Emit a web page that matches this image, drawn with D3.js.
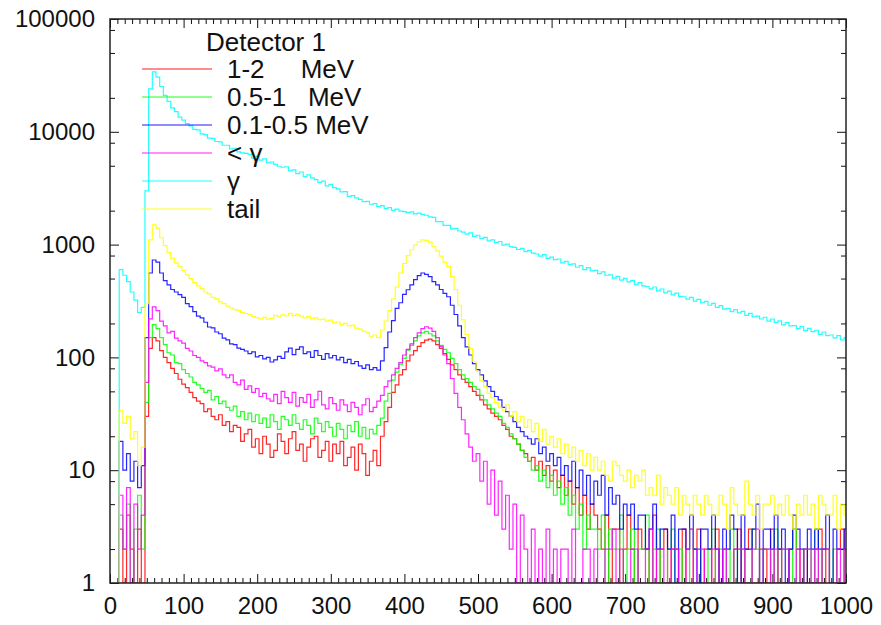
<!DOCTYPE html>
<html><head><meta charset="utf-8">
<script src="https://cdn.jsdelivr.net/npm/d3@7"></script>
<style>
body{margin:0;background:#fff;}
svg text{font-family:"Liberation Sans",Arial,sans-serif;fill:#111;}
</style></head><body>
<svg id="chart" width="881" height="625"></svg>
<script>
// channel bins (x = 10 ... 1000, every 5)
const binStart = 10, binStep = 5, binEnd = 1000;
const channels = d3.range(binStart, binEnd + 1, binStep);

const legendTitle = "Detector 1";
const seriesNames = ["1-2     MeV", "0.5-1   MeV", "0.1-0.5 MeV", "< γ", "γ", "tail"];
const seriesColors = ["#ff0000", "#00ff00", "#0000ff", "#ff00ff", "#00ffff", "#ffff00"];

const counts1to2 = [
 1,3,1,4,2,1,3,1,30,120,
 150,140,115,100,90,80,72,64,58,54,
 49,44,41,39,33,35,30,28,31,25,
 27,22,25,24,18,21,23,16,19,14,
 20,17,13,15,21,18,14,19,22,15,
 17,12,16,19,20,13,15,18,12,17,
 14,18,11,13,16,10,17,14,9,12,
 15,11,20,27,36,49,57,70,78,93,
 105,115,125,135,142,145,140,130,120,108,
 96,86,78,70,64,60,55,50,46,42,
 38,35,32,30,28,25,23,20,19,17,
 15,14,12,13,10,12,9,11,8,10,
 7,9,6,8,5,7,4,6,3,5,
 4,3,2,4,1,3,3,1,2,4,
 2,1,3,2,2,1,4,1,2,3,
 1,2,2,1,3,1,1,2,3,1,
 2,2,1,3,1,2,1,1,2,3,
 1,2,3,1,1,2,2,1,3,1,
 2,1,1,2,3,2,1,2,1,1,
 2,3,1,2,1,1,2,3,1];

const counts05to1 = [
 1,4,2,5,1,3,6,2,40,150,
 195,180,150,130,110,105,90,88,78,72,
 67,60,57,53,49,51,42,45,39,41,
 36,34,37,30,33,28,32,27,31,26,
 29,24,31,27,23,30,28,25,31,26,
 23,28,25,21,29,26,22,27,24,20,
 26,23,19,25,22,27,20,24,19,23,
 21,25,29,41,48,63,74,87,98,116,
 128,140,155,165,170,162,155,140,128,118,
 110,98,88,78,70,65,60,55,52,46,
 42,38,35,32,30,26,24,21,19,17,
 15,13,12,10,11,8,10,7,9,6,
 8,5,7,4,6,3,5,2,4,3,
 3,2,4,1,3,2,2,4,1,2,
 3,1,2,2,4,1,2,3,1,1,
 2,3,1,2,1,1,3,2,2,1,
 1,2,3,1,2,2,1,3,1,2,
 2,1,1,3,2,1,2,2,1,3,
 1,2,2,1,3,1,1,2,2,1,
 3,1,2,2,1,2,1,1,2];

const counts01to05 = [
 1,18,10,14,8,12,7,11,150,560,
 730,700,560,480,440,400,380,360,340,300,
 282,255,232,224,205,186,183,168,162,148,
 143,132,130,121,118,114,108,112,101,104,
 97,100,91,95,102,98,112,121,106,118,
 124,108,112,100,115,104,96,108,99,104,
 95,100,90,96,88,92,84,80,86,78,
 81,77,93,122,168,212,272,305,362,398,
 440,490,530,560,545,520,470,440,400,370,
 345,290,240,190,150,124,105,88,78,70,
 62,55,50,45,42,36,33,30,27,24,
 22,20,19,17,19,14,16,12,14,11,
 13,9,11,8,12,7,10,6,9,5,
 8,6,9,4,7,5,6,3,5,4,
 5,3,4,4,2,3,5,2,3,3,
 2,4,1,3,3,2,4,2,1,3,
 3,2,4,2,1,3,2,4,3,1,
 4,2,2,3,5,1,3,3,2,4,
 2,3,1,2,4,3,2,1,3,2,
 3,2,2,4,1,3,2,2,3];

const countsBelowGamma = [
 1,6,2,7,1,5,2,4,60,220,
 280,260,210,190,165,170,148,140,134,120,
 114,104,100,93,90,84,82,76,79,70,
 66,70,60,57,63,52,56,49,53,45,
 48,43,41,47,39,50,44,40,49,37,
 44,40,47,36,42,50,38,35,44,39,
 34,42,38,33,40,36,31,38,43,33,
 36,41,46,55,62,70,80,90,105,118,
 132,150,165,180,187,182,170,150,125,105,
 88,65,48,36,28,21,16,12,14,8,
 12,5,10,4,8,3,6,2,5,1,
 4,2,1,3,1,2,1,3,1,2,
 1,2,2,1,3,1,1,2,2,1,
 2,1,1,2,2,3,1,2,1,1,
 2,2,1,1,2,3,1,2,2,1,
 1,2,2,1,1,2,3,1,2,2,
 1,1,2,2,1,2,1,1,2,2,
 2,1,1,2,3,1,2,2,1,2,
 1,2,2,1,1,2,1,2,2,1,
 2,1,2,2,1,1,2,1,2];

const countsGamma = [
 1,600,535,470,380,322,250,278,3000,24000,
 34000,30500,25200,21000,18600,16300,15100,13500,12700,11800,
 11300,10500,10400,9600,9450,8800,8750,8200,8150,7600,
 7600,7050,7150,6650,6500,6450,6300,5850,6050,5600,
 5750,5300,5400,5150,4950,4850,4900,4500,4600,4250,
 4400,4000,4150,3900,3760,3560,3650,3320,3420,3200,
 3120,2930,2950,2680,2720,2600,2520,2400,2420,2280,
 2310,2170,2220,2080,2130,2010,2060,1980,1960,1920,
 1950,1870,1900,1850,1820,1760,1740,1600,1600,1480,
 1480,1380,1390,1320,1290,1240,1270,1180,1210,1130,
 1160,1080,1100,1040,1065,990,1010,960,945,905,
 925,865,890,840,825,790,815,755,775,735,
 745,690,710,665,675,630,650,600,625,585,
 592,553,572,535,540,505,522,484,502,468,
 480,442,460,430,425,405,421,389,404,373,
 387,358,371,348,345,328,341,315,327,305,
 314,290,301,278,288,268,272,255,265,248,
 256,236,246,229,232,219,227,210,219,204,
 211,194,203,190,191,180,188,173,181,169,
 174,160,168,156,158,149,156,143,150];

const countsTail = [
 1,34,26,30,19,22,11,16,300,1100,
 1500,1400,1150,980,850,760,690,640,590,540,
 500,460,430,410,380,365,340,330,310,300,
 285,275,265,260,250,245,240,230,225,220,
 226,218,222,236,229,238,234,246,235,241,
 232,224,230,222,224,216,218,210,214,202,
 206,195,200,190,193,182,178,170,165,152,
 158,150,175,210,260,330,420,560,680,800,
 900,990,1060,1100,1090,1050,960,880,790,700,
 640,520,400,290,215,160,120,92,75,62,
 55,48,44,40,36,34,38,30,33,27,
 30,24,28,22,26,18,23,17,20,16,
 19,14,17,13,16,12,15,11,14,10,
 13,10,12,9,8,12,11,9,8,10,
 7,9,8,10,6,7,6,9,5,7,
 6,5,7,4,6,5,4,6,5,4,
 6,5,4,4,6,5,3,7,5,4,
 4,8,5,4,6,3,5,5,6,4,
 5,4,6,4,3,5,4,6,4,5,
 3,6,5,4,4,6,3,5,4];

const seriesValues = [counts1to2, counts05to1, counts01to05, countsBelowGamma, countsGamma, countsTail];

const xMajorTicks = d3.range(0, 1001, 100);
const xMinorTicks = d3.range(0, 1001, 10).filter(v => v % 100 !== 0);
const yMajorTicks = [1, 10, 100, 1000, 10000, 100000];
const yMinorTicks = [2,5,8,20,50,80,200,500,800,2000,5000,8000,20000,50000,80000];

// ---- layout
const W = 881, H = 625;
const margin = {left: 110, top: 19, right: 35, bottom: 42};
const svg = d3.select("#chart");
const x = d3.scaleLinear().domain([0, 1000]).range([margin.left, W - margin.right]);
const y = d3.scaleLog().domain([1, 100000]).range([H - margin.bottom, margin.top]).clamp(true);

svg.append("rect").attr("width", W).attr("height", H).attr("fill", "#fff");

svg.append("defs").append("clipPath").attr("id", "plotclip")
  .append("rect").attr("x", margin.left).attr("y", margin.top)
  .attr("width", W - margin.left - margin.right).attr("height", H - margin.top - margin.bottom);

const fontSize = 24, legendFontSize = 26;
function styleAxis(g) {
  g.select(".domain").remove();
  g.selectAll(".tick line").attr("stroke", "#111").attr("stroke-width", 1);
  g.selectAll(".tick text").attr("font-size", fontSize).attr("fill", "#111")
    .attr("font-family", '"Liberation Sans", Arial, sans-serif');
}
const yB = H - margin.bottom, yT = margin.top, xL = margin.left, xR = W - margin.right;

svg.append("g").attr("transform", `translate(0,${yB})`)
  .call(d3.axisBottom(x).tickValues(xMajorTicks).tickSize(-9).tickPadding(14).tickFormat(d3.format("d"))).call(styleAxis);
svg.append("g").attr("transform", `translate(0,${yB})`)
  .call(d3.axisBottom(x).tickValues(xMinorTicks).tickSize(-5).tickFormat("")).call(styleAxis);
svg.append("g").attr("transform", `translate(0,${yT})`)
  .call(d3.axisTop(x).tickValues(xMajorTicks).tickSize(-9).tickFormat("")).call(styleAxis);
svg.append("g").attr("transform", `translate(0,${yT})`)
  .call(d3.axisTop(x).tickValues(xMinorTicks).tickSize(-5).tickFormat("")).call(styleAxis);
svg.append("g").attr("transform", `translate(${xL},0)`)
  .call(d3.axisLeft(y).tickValues(yMajorTicks).tickSize(-9).tickPadding(15).tickFormat(d3.format("d"))).call(styleAxis);
svg.append("g").attr("transform", `translate(${xL},0)`)
  .call(d3.axisLeft(y).tickValues(yMinorTicks).tickSize(-5).tickFormat("")).call(styleAxis);
svg.append("g").attr("transform", `translate(${xR},0)`)
  .call(d3.axisRight(y).tickValues(yMajorTicks).tickSize(-9).tickFormat("")).call(styleAxis);
svg.append("g").attr("transform", `translate(${xR},0)`)
  .call(d3.axisRight(y).tickValues(yMinorTicks).tickSize(-5).tickFormat("")).call(styleAxis);

// ---- data lines
const line = d3.line()
  .x(d => x(d[0]))
  .y(d => y(Math.max(1, d[1])))
  .curve(d3.curveStep);

const plot = svg.append("g").attr("clip-path", "url(#plotclip)");
seriesValues.forEach((vals, i) => {
  const pts = channels.map((c, k) => [c, vals[k]]);
  plot.append("path").datum(pts)
    .attr("d", line)
    .attr("fill", "none")
    .attr("stroke", seriesColors[i])
    .attr("stroke-width", 1.2)
    .attr("stroke-opacity", 0.85)
    .attr("stroke-linejoin", "miter");
});

// ---- frame
svg.append("rect").attr("x", xL).attr("y", yT).attr("width", xR - xL).attr("height", yB - yT)
  .attr("fill", "none").attr("stroke", "#222").attr("stroke-width", 1.5);

// ---- legend
const legend = svg.append("g");
legend.append("text").attr("x", 266).attr("y", 42).attr("dy", "0.35em")
  .attr("text-anchor", "middle").attr("font-size", legendFontSize).text(legendTitle);
seriesNames.forEach((name, i) => {
  const ly = 69 + i * 28;
  legend.append("line").attr("x1", 142).attr("x2", 212).attr("y1", ly).attr("y2", ly)
    .attr("stroke", seriesColors[i]).attr("stroke-width", 1.5).attr("stroke-opacity", 0.6);
  legend.append("text").attr("x", 227).attr("y", ly).attr("dy", "0.35em")
    .attr("font-size", legendFontSize).style("white-space", "pre").text(name);
});
</script>
</body></html>
